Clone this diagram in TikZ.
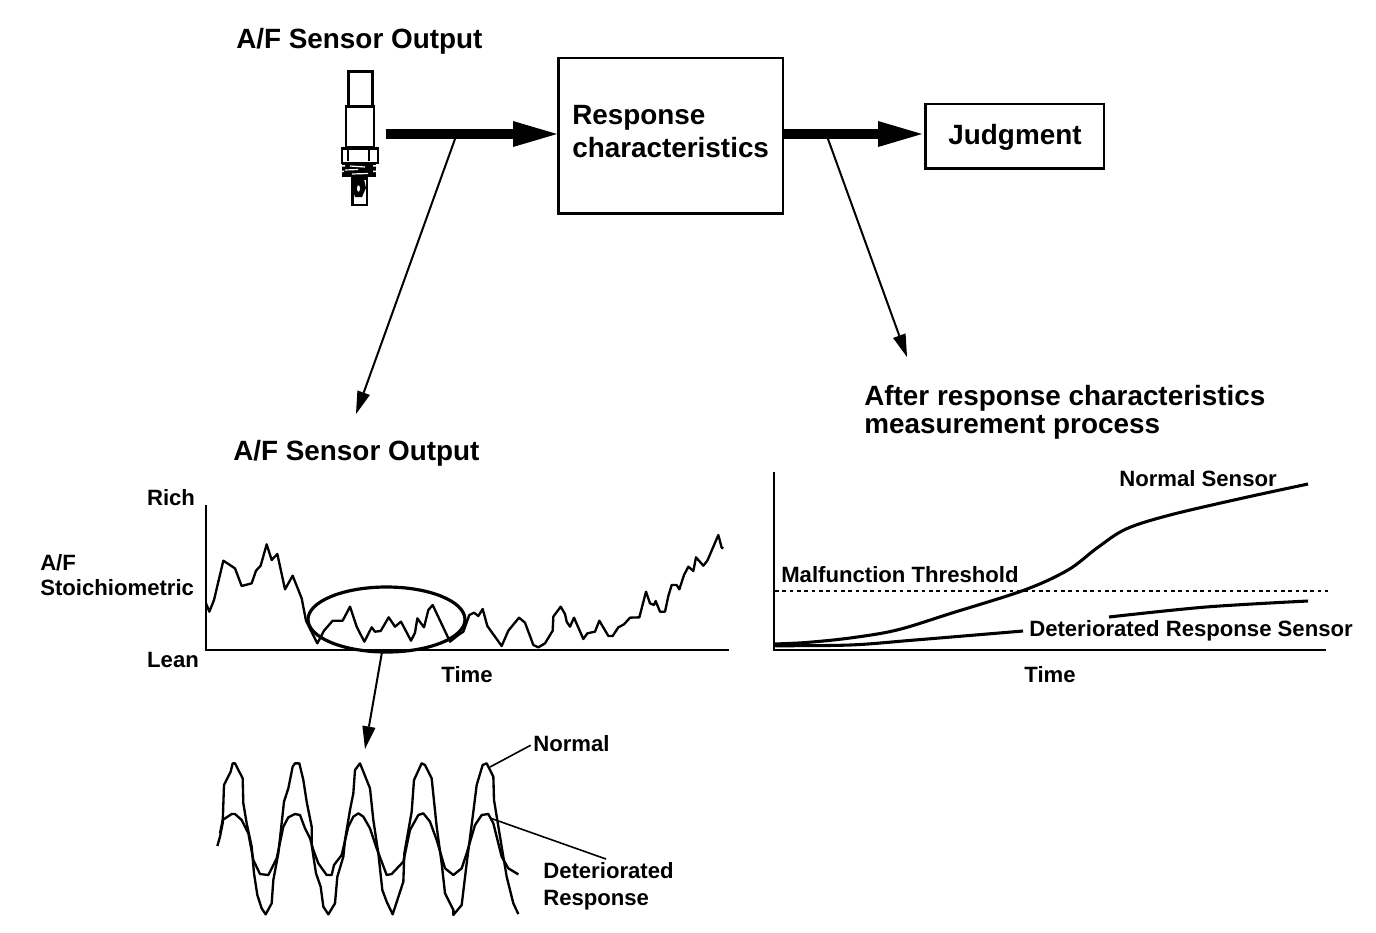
\documentclass[tikz,border=0pt]{standalone}
\usepackage{fontspec}
\setmainfont{Liberation Sans}
\usetikzlibrary{arrows.meta}
\tikzset{
  txt/.style={inner sep=0pt,font=\fontsize{16.6}{20}\selectfont\bfseries,align=left},
  big/.style={inner sep=0pt,font=\fontsize{20.9}{24}\selectfont\bfseries,align=left},
  boxn/.style={draw,line width=2.1pt,inner sep=0pt},
  thick arrow/.style={line width=6.8pt,-{Triangle[length=33pt,width=19.5pt,line width=0pt]}},
  thin arrow/.style={line width=1.5pt,-{Triangle[length=17pt,width=10pt,line width=0pt]}},
  curve/.style={line width=1.75pt,line join=round},
  axis/.style={line width=1.9pt},
  part/.style={draw,line width=1.9pt,fill=white},
  rcurve/.style={line width=2.3pt},
}
\begin{document}
\begin{tikzpicture}[x=0.75pt,y=-0.75pt]
\useasboundingbox (0,0) rectangle (1376,932);
% boxes
\node[boxn,minimum width=168.5pt,minimum height=116.5pt,anchor=north west] (resp) at (557,56.5) {};
\node[boxn,minimum width=134pt,minimum height=48.5pt,anchor=north west] (judg) at (924,102.5) {};
\node[big,anchor=west] (resptxt) at (572,132) {Response\\[0.8pt]characteristics};
\node[big,anchor=center] (judgtxt) at (1015,137) {Judgment};
\node[big,anchor=west] (t1) at (236,41) {A/F Sensor Output};
\node[big,anchor=west] (t2) at (233,453) {A/F Sensor Output};
\node[big,anchor=west] (t3) at (864,412.5) {After response characteristics\\[-3pt]measurement process};
% sensor
\node[part,minimum width=18pt,minimum height=27pt,anchor=north west] (s1) at (347,70) {};
\node[part,minimum width=21pt,minimum height=31pt,anchor=north west] (s2) at (344.5,105) {};
\node[part,minimum width=27pt,minimum height=11pt,anchor=north west] (s3) at (340.5,147) {};
\draw[line width=1.9pt] (348,147)--(348,161) (369,147)--(369,161);
\node[part,minimum width=11pt,minimum height=20pt,anchor=north west] (s4) at (351,177) {};
\fill (342,162) rectangle (376,177);
\fill[white] (340,165) rectangle (345,166.5) (373,165) rectangle (378,166.5) (340,170.5) rectangle (344,172) (373,170.5) rectangle (378,172);
\draw[white,line width=0.9pt] (350,166)--(365,167) (345,170)--(358,169.5) (352,174)--(368,173.5);
\fill (354,179) -- (364,179) -- (366,188) -- (362,197) -- (355,197) -- (352,188) -- cycle;
\draw[line width=1.4pt,fill=white] (358.5,188.5) ellipse (2.6 and 4.5);
% main arrows
\coordinate (a0) at (386,134);
\draw[thick arrow] (a0) -- (resp.west |- a0);
\coordinate (b0) at (resp.east |- a0);
\draw[thick arrow,shorten >=1.5pt] (b0) -- (judg.west |- b0);
% thin arrows
\coordinate (c0) at (455,139);
\coordinate (c1) at (356,414);
\draw[thin arrow] (c0) -- (c1);
\coordinate (d0) at (828,139);
\coordinate (d1) at (907,357);
\draw[thin arrow] (d0) -- (d1);
\coordinate (e0) at (382,652);
\coordinate (e1) at (365,749);
\draw[thin arrow] (e0) -- (e1);
% left plot
\draw[axis] (206,505) -- (206,650) -- (729,650);
\node[txt,anchor=center] (rich) at (171,498) {Rich};
\node[txt,anchor=west] (af) at (40,575) {A/F\\[-1.7pt]Stoichiometric};
\node[txt,anchor=center] (lean) at (173,660) {Lean};
\node[txt,anchor=center] (time1) at (467,675) {Time};
\begin{scope}[shift={(200,500)},x=0.25pt,y=-0.25pt]
\draw[curve] (18,310)--(28,335)--(42,300)--(55,245)--(70,182)--(105,205)--(125,258)--(155,250)--(168,212)--(182,197)--(200,133)--(215,180)--(232,162)--(255,268)--(278,227)--(305,295)--(318,362)--(352,430)--(372,392)--(398,362)--(428,362)--(450,320)--(470,380)--(493,425)--(515,382)--(525,395)--(542,393)--(566,352)--(585,380)--(603,365)--(633,422)--(645,398)--(652,355)--(672,382)--(685,330)--(698,315)--(750,425)--(775,405)--(790,395)--(808,345)
--(822,338)--(835,348)--(848,327)--(862,378)--(905,438)--(925,392)--(957,353)--(975,368)--(1000,435)--(1015,442)--(1035,430)--(1058,392)--(1060,350)--(1082,320)--(1095,342)--(1100,365)--(1110,380)--(1122,353)--(1150,417)--(1162,400)--(1185,395)--(1198,362)--(1225,408)--(1238,408)--(1255,382)--(1272,373)--(1290,353)--(1318,352)--(1338,275)--(1350,310)--(1362,315)--(1367,303)--(1380,335)--(1395,335)--(1405,288)--(1415,255)--(1430,255)--(1438,268)--(1452,225)--(1465,200)--(1480,213)--(1488,172)--(1510,197)--(1522,182)--(1555,105)--(1565,143)--(1570,145);
\end{scope}
\draw[line width=2.4pt] (386.5,619.5) ellipse (78.5 and 32.5);
% waves
\begin{scope}[shift={(210,730)},x=0.25pt,y=-0.25pt]
\draw[curve] (22,348)--(30,320)--(38,280)--(42,165)--(62,125)--(68,100)--(75,100)--(98,145)--(100,220)--(110,280)--(125,350)--(132,430)--(142,495)--(155,535)--(167,553)--(185,520)--(190,450)--(205,370)--(222,215)--(235,175)--(248,110)--(255,100)--(268,100)--(280,150)--(290,215)--(305,290)--(305,345)--(318,430)--(332,470)--(340,530)--(355,553)--(375,520)--(382,440)--(400,380)--(405,330)--(420,240)--(430,190)--(435,120)--(450,100)--(480,175)--(490,270)--(505,370)--(517,480)--(530,515)--(548,553)--(580,455)--(583,370)--(605,245)--(612,150)--(635,100)--(645,105)--(665,145)--(680,290)--(695,400)--(705,490)--(730,540)--(730,555)--(755,525)--(770,400)--(790,245)--(800,165)--(818,105)--(830,100)--(850,140)--(852,210)--(875,350)--(890,440)--(910,520)--(925,552);
\draw[curve] (30,310)--(38,270)--(65,252)--(75,252)--(95,270)--(115,310)--(130,390)--(150,432)--(175,435)--(200,385)--(220,290)--(235,262)--(255,252)--(270,255)--(285,295)--(300,325)--(310,360)--(325,400)--(350,435)--(365,435)--(372,405)--(395,375)--(415,290)--(430,260)--(445,250)--(460,260)--(480,295)--(500,355)--(530,435)--(545,432)--(580,395)--(600,300)--(625,255)--(640,250)--(660,275)--(680,330)--(705,415)--(730,435)--(755,415)--(770,370)--(795,285)--(815,255)--(835,252)--(850,280)--(875,380)--(895,415)--(925,433);
\end{scope}
\node[txt,anchor=west] (normal) at (533,744) {Normal};
\node[txt,anchor=west] (det) at (543,886.5) {Deteriorated\\[0.3pt]Response};
\coordinate (n0) at (490,767);
\draw[line width=1.2pt,shorten >=2pt] (n0) -- (normal.west);
\coordinate (m0) at (490,818);
\coordinate (m1) at (606,859);
\draw[line width=1.2pt] (m0) -- (m1);
% right plot
\draw[axis] (774,472) -- (774,650) -- (1326,650);
\draw[line width=1.8pt,dash pattern=on 2.8pt off 2.7pt] (775,591) -- (1328,591);
\draw[rcurve] plot[smooth,tension=0.55] coordinates {(774,644) (806,642.5) (850,638) (897,630) (952,613) (1024.5,590) (1068,570) (1097,548) (1126,529) (1170,515) (1243,498) (1308,484)};
\draw[rcurve] plot[smooth,tension=0.55] coordinates {(774,645.7) (850,645) (915,640) (1023,631)};
\draw[rcurve] plot[smooth,tension=0.55] coordinates {(1109,617) (1206,607) (1308,601)};
\node[txt,anchor=west] (ns) at (1119,479) {Normal Sensor};
\node[txt,anchor=west] (mf) at (781,575) {Malfunction Threshold};
\node[txt,anchor=west] (ds) at (1029,631) {Deteriorated Response Sensor};
\node[txt,anchor=center] (time2) at (1050,675) {Time};
\end{tikzpicture}
\end{document}
